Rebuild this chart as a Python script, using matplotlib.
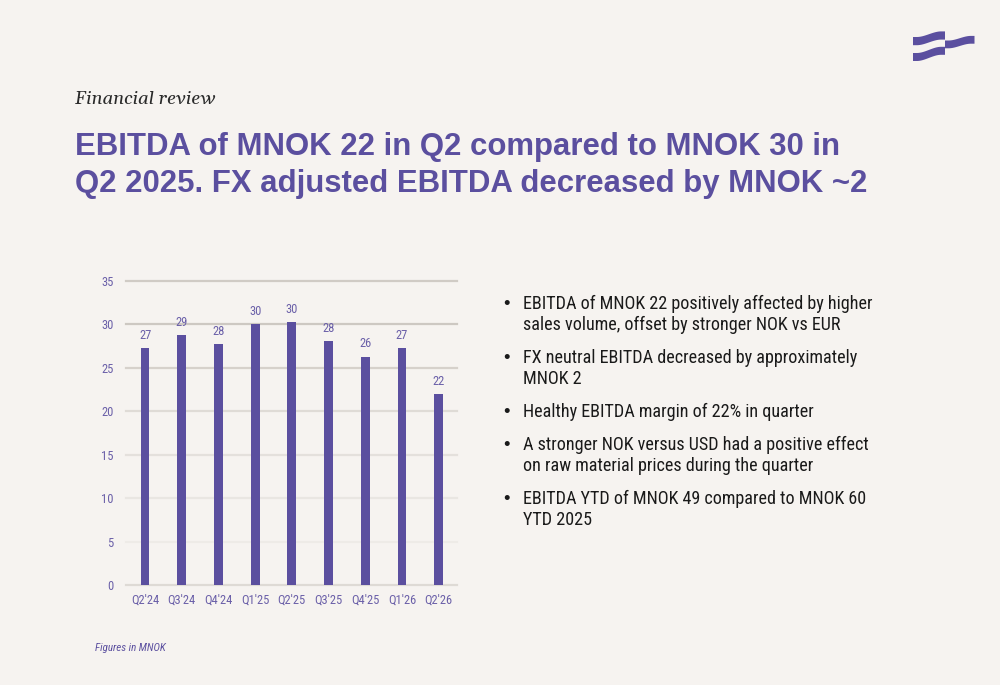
import numpy as np
import matplotlib
matplotlib.use("Agg")
import matplotlib.pyplot as plt
from matplotlib.patches import Polygon
from matplotlib import font_manager

# ---------------- data ----------------
quarters = ["Q2'24", "Q3'24", "Q4'24", "Q1'25", "Q2'25", "Q3'25", "Q4'25", "Q1'26", "Q2'26"]
ebitda = [27.25, 28.75, 27.7, 30.05, 30.25, 28.05, 26.3, 27.25, 21.95]
value_labels = ["27", "29", "28", "30", "30", "28", "26", "27", "22"]
y_ticks = [0, 5, 10, 15, 20, 25, 30, 35]

title_lines = ["EBITDA of MNOK 22 in Q2 compared to MNOK 30 in",
               "Q2 2025. FX adjusted EBITDA decreased by MNOK ~2"]
bullets = [
    ["EBITDA of MNOK 22 positively affected by higher", "sales volume, offset by stronger NOK vs EUR"],
    ["FX neutral EBITDA decreased by approximately", "MNOK 2"],
    ["Healthy EBITDA margin of 22% in quarter"],
    ["A stronger NOK versus USD had a positive effect", "on raw material prices during the quarter"],
    ["EBITDA YTD of MNOK 49 compared to MNOK 60", "YTD 2025"],
]

# ---------------- style ----------------
BG = "#f6f3f0"
PURPLE = "#5b4f9f"
TICK = "#6a5fa8"
GRID_COLORS = {35: "#d0cbc5", 30: "#cdc8c2", 25: "#d6d1cb", 20: "#dfdbd6",
               15: "#e4e0dc", 10: "#e9e6e2", 5: "#eeebe7", 0: "#dedad5"}

avail = {f.name for f in font_manager.fontManager.ttflist}
COND = ["Roboto Condensed" if "Roboto Condensed" in avail else "Liberation Sans", "DejaVu Sans"]
BOLD = ["Liberation Sans", "DejaVu Sans"]
SERIF = ["Gelasio" if "Gelasio" in avail else "Liberation Serif", "DejaVu Serif"]
plt.rcParams['font.family'] = COND

W, H = 1000, 685
fig = plt.figure(figsize=(W / 100, H / 100), dpi=100, facecolor=BG)

ov = fig.add_axes([0, 0, 1, 1], zorder=0)
ov.set_xlim(0, W)
ov.set_ylim(H, 0)
ov.axis("off")

def px(v):  # pixel font size -> points
    return v * 72 / 100

ov.text(75, 104, "Financial review", fontsize=px(18.6), fontstyle="italic",
        family=SERIF, color="#2a2a2a", va="baseline", ha="left")

for i, line in enumerate(title_lines):
    ov.text(75, 155 + 36.5 * i, line, fontsize=px(31.2), fontweight="bold", color=PURPLE,
            va="baseline", ha="left", family=BOLD)

# bullets
y = 309
for item in bullets:
    ov.text(503, y, "\u2022", fontsize=px(18.5), color="#1a1a1a", va="baseline", ha="left", family=BOLD)
    for j, line in enumerate(item):
        ov.text(523, y + 20.7 * j, line, fontsize=px(18.1), color="#1a1a1a", va="baseline", ha="left")
    y += 20.7 * (len(item) - 1) + 33.3

ov.text(95, 651, "Figures in MNOK", fontsize=px(11), fontstyle="italic", color=PURPLE,
        va="baseline", ha="left")

# logo (three wave stripes)
def stripe(x0, x1, ytop_left, rise, thick):
    t = np.linspace(0, 1, 60)
    u = np.clip((t - 0.12) / 0.76, 0, 1)
    s = u * u * (3 - 2 * u)
    xs = x0 + (x1 - x0) * t
    top = ytop_left - rise * s
    bot = top + thick
    pts = np.concatenate([np.column_stack([xs, top]), np.column_stack([xs[::-1], bot[::-1]])])
    ov.add_patch(Polygon(pts, closed=True, facecolor=PURPLE, edgecolor="none"))

stripe(913, 945, 37.0, 5.6, 8.2)
stripe(945, 974.5, 40.5, 4.6, 7.8)
stripe(913, 945, 53.0, 6.2, 8.0)

# ---------------- chart ----------------
ax = fig.add_axes([126 / W, 1 - 585 / H, (457 - 126) / W, (585 - 281) / H], zorder=1)
ax.set_facecolor("none")
x = np.arange(len(quarters))
ax.bar(x, ebitda, width=0.24, color=PURPLE, zorder=3)
for xi, v, lab in zip(x, ebitda, value_labels):
    ax.annotate(lab, (xi, v), xytext=(0, 4.5), textcoords="offset points", ha="center", va="bottom",
                fontsize=px(12.5), color=TICK)

ax.set_xlim(-0.52, len(quarters) - 0.5)
ax.set_ylim(0, 35)
ax.set_yticks(y_ticks)
for yt in y_ticks:
    ax.axhline(yt, color=GRID_COLORS[yt], linewidth=1.6, zorder=0, clip_on=False)
ax.set_xticks(x)
ax.set_xticklabels(quarters)
for s in ax.spines.values():
    s.set_visible(False)
ax.tick_params(axis="both", length=0, labelsize=px(12.5), labelcolor=TICK)
ax.tick_params(axis="y", pad=9)
ax.tick_params(axis="x", pad=6)

fig.savefig("out.png", dpi=100, facecolor=BG)
